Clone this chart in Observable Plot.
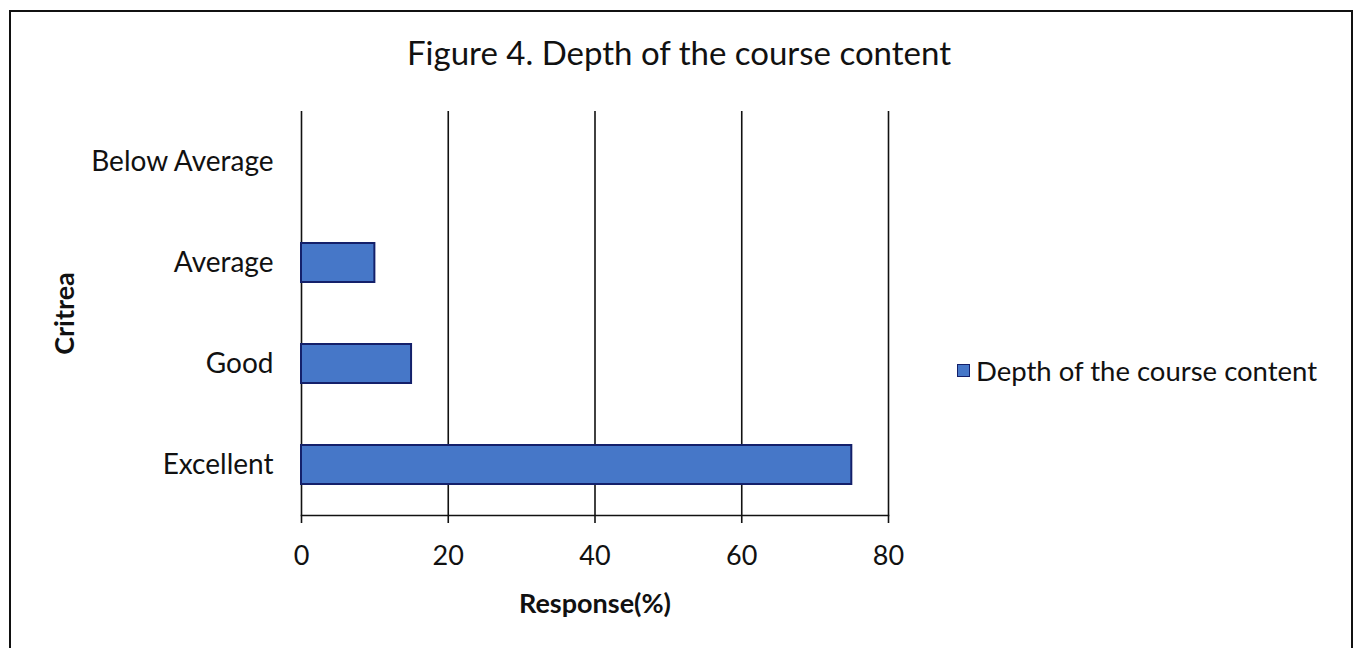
<!DOCTYPE html>
<html>
<head>
<meta charset="utf-8">
<script src="https://cdn.jsdelivr.net/npm/d3@7"></script>
<script src="https://cdn.jsdelivr.net/npm/@observablehq/plot@0.6"></script>
<style>
  html, body { margin: 0; padding: 0; background: #fff; width: 1358px; height: 648px; overflow: hidden; font-family: Lato, "Open Sans", sans-serif; }
  #frame { position: absolute; left: 9px; top: 10px; width: 1340px; height: 700px; border: 2px solid #111; }
  #title { position: absolute; left: 0; width: 1358px; top: 32px; text-align: center; font-size: 33px; line-height: 40px; color: #111; }
  #chart { position: absolute; left: 10px; top: 100px; }
  #legend { position: absolute; left: 957px; top: 353px; height: 34px; font-size: 27.5px; color: #111; display: flex; align-items: center; }
  #legend .sw { width: 11px; height: 11px; background: #4677c8; border: 1.5px solid #14206a; margin-right: 6px; }
</style>
</head>
<body>
<div id="frame"></div>
<div id="title">Figure 4. Depth of the course content</div>
<div id="chart"></div>
<div id="legend"><span class="sw"></span><span>Depth of the course content</span></div>
<script>
const categories = ["Below Average", "Average", "Good", "Excellent"];
const responses = [0, 10, 15, 75];
const xTicks = [0, 20, 40, 60, 80];
const seriesName = "Depth of the course content";
const xLabel = "Response(%)";
const yLabel = "Critrea";

const data = categories.map((c, i) => ({criteria: c, value: responses[i]}));

const chart = Plot.plot({
  width: 918,
  height: 530,
  marginLeft: 291,
  marginRight: 40,
  marginTop: 11,
  marginBottom: 115,
  style: { fontFamily: "Lato, 'Open Sans', sans-serif", color: "#111", background: "transparent" },
  x: { domain: [0, 80], ticks: xTicks },
  y: { domain: categories, paddingInner: 0.61, paddingOuter: 0.305 },
  marks: [
    Plot.ruleX(xTicks, { stroke: "#111", strokeWidth: 1.6 }),
    Plot.frame({ anchor: "bottom", stroke: "#111", strokeWidth: 1.6 }),
    Plot.barX(data, { x: "value", y: "criteria", fill: "#4677c8", stroke: "#14206a", strokeWidth: 2 }),
    Plot.axisX({ ticks: xTicks, tickSize: 8, tickPadding: 22, fontSize: 27, label: null, stroke: "#111", strokeWidth: 1.6 }),
    Plot.axisY({ tickSize: 0, tickPadding: 28, fontSize: 28, label: null }),
    Plot.text([xLabel], { frameAnchor: "bottom", dy: 89, lineAnchor: "middle", fontSize: 27, fontWeight: "bold", fill: "#111" }),
    Plot.text([yLabel], { frameAnchor: "left", dx: -236, rotate: -90, textAnchor: "middle", lineAnchor: "middle", fontSize: 27, fontWeight: "bold", fill: "#111" })
  ]
});
document.getElementById("chart").appendChild(chart);
</script>
</body>
</html>
